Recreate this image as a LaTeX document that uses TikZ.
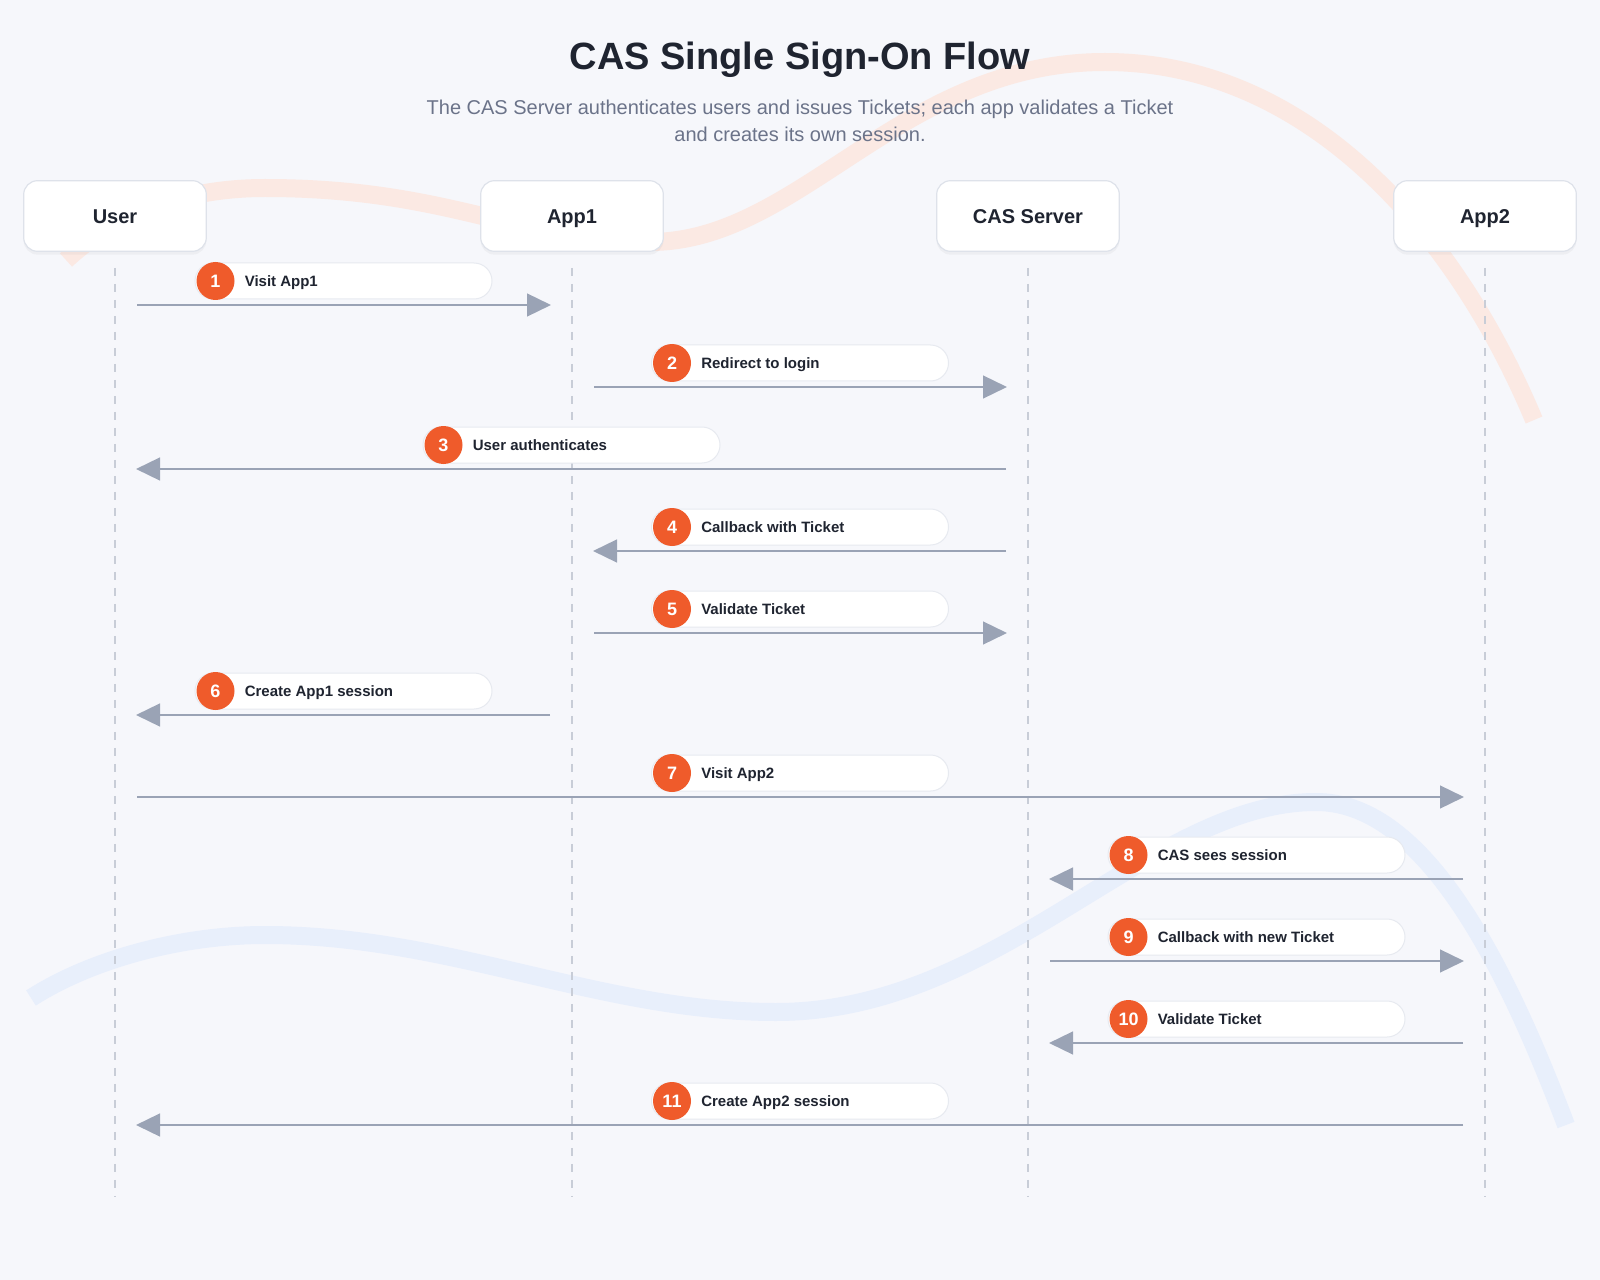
\documentclass[tikz,border=0pt]{standalone}
\usepackage{fontspec}
\setmainfont{Liberation Sans}
\usepackage{tikz}
\usetikzlibrary{arrows.meta}
\usetikzlibrary{shadows}

\definecolor{bgcol}{HTML}{F6F7FB}
\definecolor{ink}{HTML}{1F2430}
\definecolor{subink}{HTML}{6B7389}
\definecolor{boxline}{HTML}{DEE2EA}
\definecolor{lifecol}{HTML}{C8CDD7}
\definecolor{arrowcol}{HTML}{9AA3B5}
\definecolor{badgecol}{HTML}{EF5B2B}
\definecolor{pillline}{HTML}{E7EAF0}
\definecolor{peach}{HTML}{FBE9E3}
\definecolor{skyband}{HTML}{E8EFFB}

\begin{document}
\begin{tikzpicture}[x=0.75pt, y=-0.75pt,
            actor node/.style={rectangle,rounded corners=10.5pt,fill=white,draw=boxline,line width=0.9pt,
                minimum width=137pt,minimum height=53pt,text=ink,font=\fontsize{15}{18}\selectfont\bfseries,
                text height=10.75pt,text depth=0pt,
                drop shadow={shadow xshift=0pt,shadow yshift=-2.5pt,opacity=0.07}},
            life line/.style={draw=lifecol,line width=1.4pt,dash pattern=on 6pt off 6pt},
            msg line/.style={draw=arrowcol,line width=1.9pt,-{Triangle[length=18pt,width=17pt]},
                shorten <=16.5pt,shorten >=15.75pt},
            pill node/.style={rectangle,rounded corners=13.5pt,fill=white,draw=pillline,line width=0.75pt,
                minimum width=222.75pt,minimum height=27pt,inner sep=0pt},
            badge node/.style={circle,fill=badgecol,text=white,minimum size=28.5pt,inner sep=0pt,
                font=\fontsize{13.5}{16}\selectfont\bfseries,text height=9.7pt,text depth=0pt},
            msg text/.style={anchor=west,inner sep=0pt,text=ink,font=\fontsize{11.25}{13}\selectfont\bfseries,
                text height=8pt,text depth=0pt},
            ]

            \fill[bgcol] (0,0) rectangle (1600,1280);

            \draw[peach,line width=13.5pt] (66,260) .. controls (120,210) and (190,188) .. (265,188)
                .. controls (450,188) and (520,242) .. (650,242)
                .. controls (800,242) and (900,62) .. (1105,62)
                .. controls (1300,62) and (1450,220) .. (1534,420);
            \draw[skyband,line width=13.5pt] (31,998) .. controls (90,960) and (180,935) .. (265,935)
                .. controls (450,935) and (600,1012) .. (776,1012)
                .. controls (1000,1012) and (1150,802) .. (1316,802)
                .. controls (1420,802) and (1500,950) .. (1566,1125);

            \node[text=ink,font=\fontsize{28.5}{32}\selectfont\bfseries,text height=20.4pt,text depth=0pt] (title) at (800,56) {CAS Single Sign-On Flow};
            \node[text=subink,align=center,font=\fontsize{15}{20.25}\selectfont] (sub) at (800,121)
                {The CAS Server authenticates users and issues Tickets; each app validates a Ticket\\and creates its own session.};

            \node[actor node] (user) at (115,216) {User};
            \node[actor node] (app1) at (572,216) {App1};
            \node[actor node] (cas) at (1028,216) {CAS Server};
            \node[actor node] (app2) at (1485,216) {App2};

            \coordinate (bottom) at (0,1196);
            \draw[life line] (user.south) ++(0,16) -- (user |- bottom);
            \draw[life line] (app1.south) ++(0,16) -- (app1 |- bottom);
            \draw[life line] (cas.south) ++(0,16) -- (cas |- bottom);
            \draw[life line] (app2.south) ++(0,16) -- (app2 |- bottom);

            \coordinate (r1) at (0,305);
            \draw[msg line] (user |- r1) -- (app1 |- r1);
            \node[pill node] (p1) at (343.5,281) {};
            \node[badge node] (b1) at ([xshift=15.75pt]p1.west) {1};
            \node[msg text] (t1) at ([xshift=37.5pt]p1.west) {Visit App1};

            \coordinate (r2) at (0,387);
            \draw[msg line] (app1 |- r2) -- (cas |- r2);
            \node[pill node] (p2) at (800,363) {};
            \node[badge node] (b2) at ([xshift=15.75pt]p2.west) {2};
            \node[msg text] (t2) at ([xshift=37.5pt]p2.west) {Redirect to login};

            \coordinate (r3) at (0,469);
            \draw[msg line] (cas |- r3) -- (user |- r3);
            \node[pill node] (p3) at (571.5,445) {};
            \node[badge node] (b3) at ([xshift=15.75pt]p3.west) {3};
            \node[msg text] (t3) at ([xshift=37.5pt]p3.west) {User authenticates};

            \coordinate (r4) at (0,551);
            \draw[msg line] (cas |- r4) -- (app1 |- r4);
            \node[pill node] (p4) at (800,527) {};
            \node[badge node] (b4) at ([xshift=15.75pt]p4.west) {4};
            \node[msg text] (t4) at ([xshift=37.5pt]p4.west) {Callback with Ticket};

            \coordinate (r5) at (0,633);
            \draw[msg line] (app1 |- r5) -- (cas |- r5);
            \node[pill node] (p5) at (800,609) {};
            \node[badge node] (b5) at ([xshift=15.75pt]p5.west) {5};
            \node[msg text] (t5) at ([xshift=37.5pt]p5.west) {Validate Ticket};

            \coordinate (r6) at (0,715);
            \draw[msg line] (app1 |- r6) -- (user |- r6);
            \node[pill node] (p6) at (343.5,691) {};
            \node[badge node] (b6) at ([xshift=15.75pt]p6.west) {6};
            \node[msg text] (t6) at ([xshift=37.5pt]p6.west) {Create App1 session};

            \coordinate (r7) at (0,797);
            \draw[msg line] (user |- r7) -- (app2 |- r7);
            \node[pill node] (p7) at (800,773) {};
            \node[badge node] (b7) at ([xshift=15.75pt]p7.west) {7};
            \node[msg text] (t7) at ([xshift=37.5pt]p7.west) {Visit App2};

            \coordinate (r8) at (0,879);
            \draw[msg line] (app2 |- r8) -- (cas |- r8);
            \node[pill node] (p8) at (1256.5,855) {};
            \node[badge node] (b8) at ([xshift=15.75pt]p8.west) {8};
            \node[msg text] (t8) at ([xshift=37.5pt]p8.west) {CAS sees session};

            \coordinate (r9) at (0,961);
            \draw[msg line] (cas |- r9) -- (app2 |- r9);
            \node[pill node] (p9) at (1256.5,937) {};
            \node[badge node] (b9) at ([xshift=15.75pt]p9.west) {9};
            \node[msg text] (t9) at ([xshift=37.5pt]p9.west) {Callback with new Ticket};

            \coordinate (r10) at (0,1043);
            \draw[msg line] (app2 |- r10) -- (cas |- r10);
            \node[pill node] (p10) at (1256.5,1019) {};
            \node[badge node] (b10) at ([xshift=15.75pt]p10.west) {10};
            \node[msg text] (t10) at ([xshift=37.5pt]p10.west) {Validate Ticket};

            \coordinate (r11) at (0,1125);
            \draw[msg line] (app2 |- r11) -- (user |- r11);
            \node[pill node] (p11) at (800,1101) {};
            \node[badge node] (b11) at ([xshift=15.75pt]p11.west) {11};
            \node[msg text] (t11) at ([xshift=37.5pt]p11.west) {Create App2 session};

            \useasboundingbox (0,0) rectangle (1600,1280);
        \end{tikzpicture}
\end{document}
